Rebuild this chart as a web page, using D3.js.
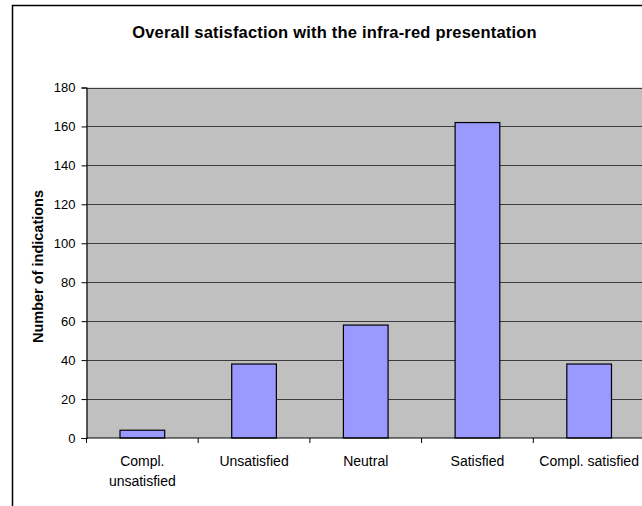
<!DOCTYPE html>
<html>
<head>
<meta charset="utf-8">
<script src="https://cdn.jsdelivr.net/npm/d3@7/dist/d3.min.js"></script>
<style>
  html, body { margin: 0; padding: 0; background: #fff; }
  svg { display: block; }
  text { font-family: Arial, "Liberation Sans", sans-serif; fill: #000; }
</style>
</head>
<body>
<svg id="chart" width="642" height="506"></svg>
<script>
// Survey responses: overall satisfaction with the infra-red presentation
const categories = [["Compl.", "unsatisfied"], ["Unsatisfied"], ["Neutral"], ["Satisfied"], ["Compl. satisfied"]];
const counts = [4, 38, 58, 162, 38];
const yTicks = [0, 20, 40, 60, 80, 100, 120, 140, 160, 180];

const svg = d3.select("#chart");

// chart frame (extends past the right and bottom edges)
svg.append("rect")
  .attr("x", 12.5).attr("y", 5.5)
  .attr("width", 700).attr("height", 600)
  .attr("fill", "#fff").attr("stroke", "#000").attr("stroke-width", 1.5);

const plot = { left: 86.5, right: 645, top: 87.5, bottom: 438 };

const x = d3.scaleBand()
  .domain(d3.range(categories.length))
  .range([plot.left, plot.right])
  .paddingInner(0.6).paddingOuter(0.3);

const xOuter = d3.scaleBand()
  .domain(d3.range(categories.length))
  .range([plot.left, plot.right]);

const y = d3.scaleLinear().domain([0, 180]).range([plot.bottom, plot.top]);

// plot area
svg.append("rect")
  .attr("x", plot.left).attr("y", plot.top)
  .attr("width", plot.right - plot.left).attr("height", plot.bottom - plot.top)
  .attr("fill", "#c0c0c0");

// gridlines
svg.append("g")
  .selectAll("line")
  .data(yTicks.filter(d => d > 0))
  .join("line")
  .attr("x1", plot.left).attr("x2", plot.right)
  .attr("y1", d => Math.round(y(d)) + 0.5).attr("y2", d => Math.round(y(d)) + 0.5)
  .attr("stroke", "#3c3c3c").attr("stroke-width", 1.2);

// bars
svg.append("g")
  .selectAll("rect")
  .data(counts)
  .join("rect")
  .attr("x", (d, i) => x(i))
  .attr("y", d => y(d))
  .attr("width", x.bandwidth())
  .attr("height", d => y(0) - y(d))
  .attr("fill", "#9999ff")
  .attr("stroke", "#000").attr("stroke-width", 1.2);

// y axis
const yAxis = svg.append("g")
  .attr("transform", `translate(${plot.left},0)`)
  .call(d3.axisLeft(y).tickValues(yTicks).tickSize(5).tickPadding(6));
yAxis.select(".domain").attr("stroke", "#000").attr("stroke-width", 1.2);
yAxis.selectAll(".tick line").attr("stroke", "#000");
yAxis.selectAll(".tick text")
  .attr("font-size", "13px")
  .attr("font-family", "Arial, 'Liberation Sans', sans-serif");

// x axis with ticks between categories
const xAxisG = svg.append("g");
xAxisG.append("line")
  .attr("x1", plot.left).attr("x2", plot.right)
  .attr("y1", plot.bottom).attr("y2", plot.bottom)
  .attr("stroke", "#000").attr("stroke-width", 1.2);
xAxisG.selectAll("line.sep")
  .data(d3.range(categories.length + 1))
  .join("line")
  .attr("class", "sep")
  .attr("x1", i => i < categories.length ? xOuter(i) : plot.right)
  .attr("x2", i => i < categories.length ? xOuter(i) : plot.right)
  .attr("y1", plot.bottom).attr("y2", plot.bottom + 5)
  .attr("stroke", "#000");

const labels = xAxisG.selectAll("text.cat")
  .data(categories)
  .join("text")
  .attr("class", "cat")
  .attr("text-anchor", "middle")
  .attr("font-size", "14px")
  .attr("x", (d, i) => xOuter(i) + xOuter.bandwidth() / 2)
  .attr("y", 466);
labels.selectAll("tspan")
  .data(d => d)
  .join("tspan")
  .attr("x", function () { return d3.select(this.parentNode).attr("x"); })
  .attr("dy", (d, i) => i === 0 ? 0 : 20)
  .text(d => d);

// title
svg.append("text")
  .attr("x", 334.5).attr("y", 38)
  .attr("text-anchor", "middle")
  .attr("font-size", "16.5px").attr("font-weight", "bold")
  .attr("letter-spacing", "0.2px")
  .text("Overall satisfaction with the infra-red presentation");

// y axis title
svg.append("text")
  .attr("transform", `translate(43,266.5) rotate(-90)`)
  .attr("text-anchor", "middle")
  .attr("font-size", "14.5px").attr("font-weight", "bold")
  .text("Number of indications");
</script>
</body>
</html>
